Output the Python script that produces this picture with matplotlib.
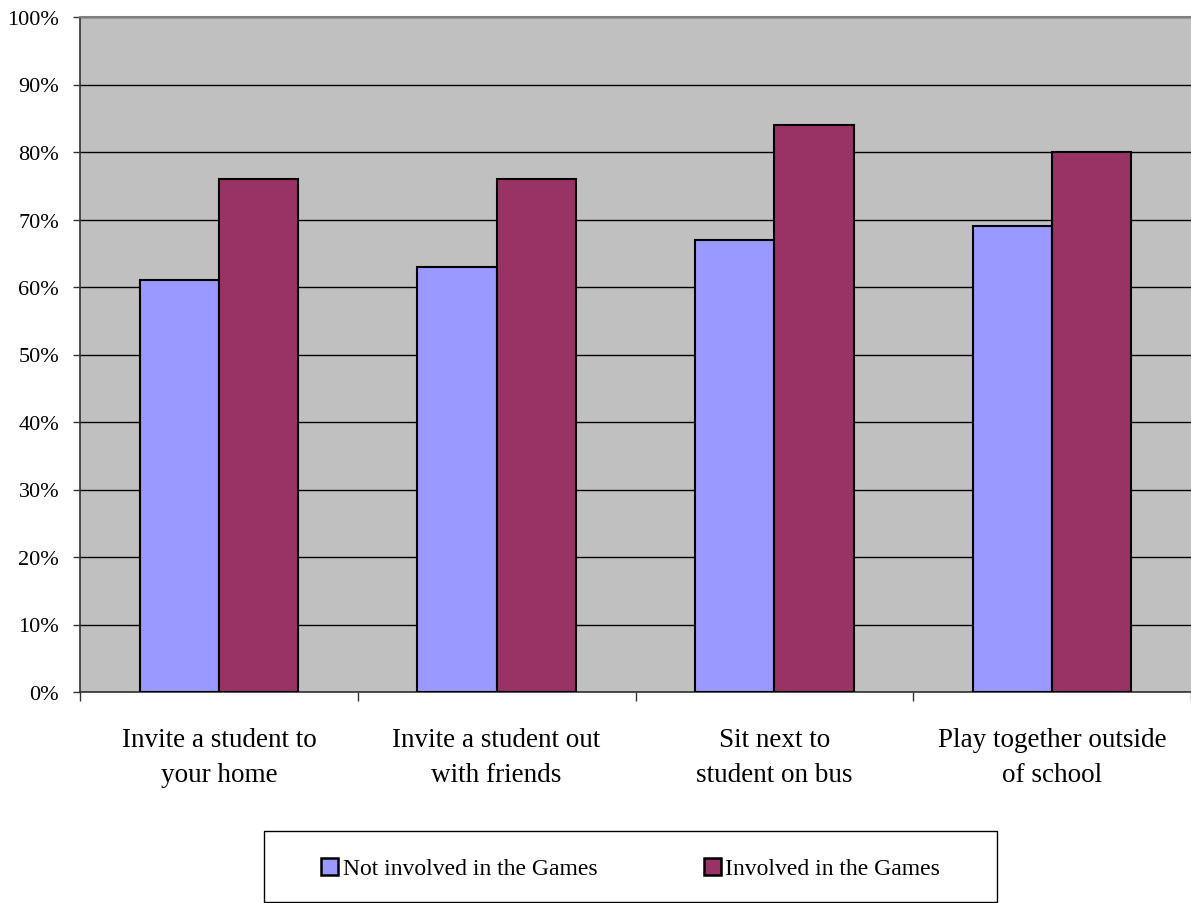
import matplotlib.pyplot as plt
import numpy as np
from matplotlib.patches import Rectangle
from matplotlib.ticker import FuncFormatter

# values (percent)
categories = [
    'Invite a student to\nyour home',
    'Invite a student out\nwith friends',
    'Sit next to\nstudent on bus',
    'Play together outside\nof school',
]
not_involved = [61, 63, 67, 69]
involved = [76, 76, 84, 80]
series_names = ['Not involved in the Games', 'Involved in the Games']

plt.rcParams['font.family'] = ['Liberation Serif', 'DejaVu Serif']

fig = plt.figure(figsize=(11.91, 9.04), dpi=100)
W, H = 1191, 904
ax = fig.add_axes([80 / W, 1 - 693 / H, (W - 80) / W, (693 - 18) / H])

x = np.arange(len(categories))
width = 1 / 3.5   # excel gap width 150%
ax.bar(x - width / 2, not_involved, width, color='#9999ff', edgecolor='black',
       linewidth=1.5, label=series_names[0], zorder=3)
ax.bar(x + width / 2, involved, width, color='#993366', edgecolor='black',
       linewidth=1.5, label=series_names[1], zorder=3)

ax.set_facecolor('#c0c0c0')
ax.set_ylim(0, 100)
ax.set_xlim(-0.5, -0.5 + (W - 80) / 279)
ax.set_yticks(range(0, 101, 10))
ax.yaxis.set_major_formatter(FuncFormatter(lambda v, _: f'{v:.0f}%'))
ax.yaxis.grid(True, color='black', linewidth=1, zorder=1)
ax.tick_params(axis='y', direction='out', length=5, width=1, labelsize=16,
               pad=10, colors='#333333', labelcolor='black')

# category boundaries as ticks, labels on the centres
ax.set_xticks([-0.5, 0.5, 1.5, 2.5, 3.5])
ax.set_xticklabels([])
ax.set_xticks(x, minor=True)
ax.set_xticklabels(categories, minor=True, fontsize=19.5, linespacing=1.55)
ax.tick_params(axis='x', which='major', direction='out', length=6.5, width=1,
               colors='#333333')
ax.tick_params(axis='x', which='minor', length=0, pad=25)

for side in ['left', 'bottom']:
    ax.spines[side].set_color('#333333')
    ax.spines[side].set_linewidth(1.2)
ax.spines['top'].set_color('#808080')
ax.spines['top'].set_linewidth(1.5)
ax.spines['right'].set_visible(False)

# legend box drawn separately so its size matches the original
fig.patches.append(Rectangle((264 / W, 1 - 903 / H), 733 / W, 71 / H,
                             transform=fig.transFigure, facecolor='white',
                             edgecolor='black', linewidth=1, zorder=0))
leg = fig.legend(
    loc='center', ncol=2, bbox_to_anchor=(630.5 / W, 1 - 869.5 / H),
    fontsize=17, frameon=False,
    handlelength=0.72, handleheight=0.72, handletextpad=0.2, borderpad=0,
    columnspacing=4.5
)
for patch in leg.get_patches():
    patch.set_linewidth(1.8)

fig.savefig('out.png', dpi=100)
